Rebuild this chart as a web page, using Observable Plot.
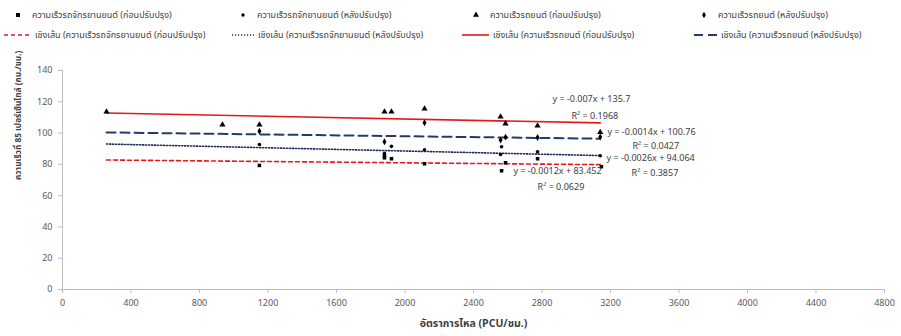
<!DOCTYPE html>
<html><head><meta charset="utf-8">
<script src="https://cdn.jsdelivr.net/npm/d3@7"></script>
<script src="https://cdn.jsdelivr.net/npm/@observablehq/plot@0.6"></script>
<style>
body{margin:0;background:#fff;font-family:Tahoma,"Noto Sans Thai","Noto Sans",sans-serif;}
#legend{position:relative;width:901px;height:50px;font-size:9px;color:#404040;}
#legend .it{position:absolute;display:flex;align-items:center;white-space:nowrap;height:14px;}
#legend svg{display:block;margin-right:4px;}
</style></head>
<body>
<div id="legend"></div>
<div id="chart"></div>
<script>
// ---- data ----
const xTicks = [0,400,800,1200,1600,2000,2400,2800,3200,3600,4000,4400,4800];
const yTicks = [0,20,40,60,80,100,120,140];
const seriesNames = [
  "ความเร็วรถจักรยานยนต์ (ก่อนปรับปรุง)",
  "ความเร็วรถจักยานยนต์ (หลังปรับปรุง)",
  "ความเร็วรถยนต์ (ก่อนปรับปรุง)",
  "ความเร็วรถยนต์ (หลังปรับปรุง)"
];
const trendNames = [
  "เชิงเส้น (ความเร็วรถจักรยานยนต์ (ก่อนปรับปรุง)",
  "เชิงเส้น (ความเร็วรถจักยานยนต์ (หลังปรับปรุง)",
  "เชิงเส้น (ความเร็วรถยนต์ (ก่อนปรับปรุง)",
  "เชิงเส้น (ความเร็วรถยนต์ (หลังปรับปรุง)"
];
// motorcycle before
const mcBeforeX = [1150,1880,1880,1921,2114,2564,2587,2774,3147];
const mcBeforeY = [79.3,85.5,84.2,83.6,80.4,75.9,81.0,83.6,78.5];
// motorcycle after
const mcAfterX = [1150,1880,1921,2114,2558,2564,2774,3140];
const mcAfterY = [92.7,87.0,91.5,89.3,86.3,91.3,88.0,85.5];
// car before
const carBeforeX = [257,934,1150,1880,1921,2114,2558,2587,2774,3140];
const carBeforeY = [113.6,105.3,105.3,113.6,113.6,115.5,110.4,106.0,104.7,100.5];
// car after
const carAfterX = [1150,1880,2114,2558,2587,2774,3140];
const carAfterY = [101.2,94.4,106.6,95.5,97.4,97.2,97.5];
// trendlines (start / end)
const trendX = [257,3140];
const trendMcBefore = [82.8,79.8];
const trendMcAfter = [93.0,85.6];
const trendCarBefore = [112.8,106.5];
const trendCarAfter = [100.4,96.4];
// equation labels
const eqText = ["y = -0.007x + 135.7","R² = 0.1968","y = -0.0014x + 100.76","R² = 0.0427",
                "y = -0.0026x + 94.064","R² = 0.3857","y = -0.0012x + 83.452","R² = 0.0629"];
const eqX = [2861,2972,3182,3328,3177,3323,2633,2774];
const eqY = [121.5,110.6,100.4,91.6,83.8,74.2,75.5,65.3];
const xTitle = "อัตราการไหล (PCU/ชม.)";
const yTitle = "ความเร็วที่ 85 เปอร์เซ็นไทล์ (กม./ชม.)";

// ---- build tables ----
const pts = (xs, ys) => xs.map((x,i)=>({x, y: ys[i]}));
const trend = ys => trendX.map((x,i)=>({x, y: ys[i]}));
const eqs = eqText.map((t,i)=>({t, x: eqX[i], y: eqY[i]}));
const FONT = 'Tahoma,"Noto Sans Thai","Noto Sans",sans-serif';

const styles = {
  mcBefore: {stroke:"#e31a1c", dash:"4,3", w:1.6},
  mcAfter: {stroke:"#1f2d5a", dash:"1.2,1.8", w:1.6},
  carBefore: {stroke:"#e31a1c", dash:null, w:1.6},
  carAfter: {stroke:"#243b66", dash:"9,5", w:2}
};

const chart = Plot.plot({
  width: 901, height: 286,
  marginTop: 20, marginBottom: 47, marginLeft: 62, marginRight: 17,
  x: {domain:[0,4800]},
  y: {domain:[0,140]},
  style: {fontFamily: FONT, fontSize: "9px", color: "#595959", background: "#fff", overflow: "visible"},
  marks: [
    Plot.ruleX([0], {stroke:"#bfbfbf"}),
    Plot.ruleY([0], {stroke:"#bfbfbf"}),
    Plot.axisX({ticks: xTicks, tickFormat: d => String(d), tickSize: 4, tickPadding: 6, label: null, stroke:"#bfbfbf", fill:"#595959", fontSize: 9}),
    Plot.axisY({ticks: yTicks, tickFormat: d => String(d), tickSize: 4, tickPadding: 6, label: null, stroke:"#bfbfbf", fill:"#595959", fontSize: 9}),
    Plot.line(trend(trendCarBefore), {x:"x", y:"y", stroke: styles.carBefore.stroke, strokeWidth: styles.carBefore.w}),
    Plot.line(trend(trendCarAfter), {x:"x", y:"y", stroke: styles.carAfter.stroke, strokeWidth: styles.carAfter.w, strokeDasharray: styles.carAfter.dash}),
    Plot.line(trend(trendMcAfter), {x:"x", y:"y", stroke: styles.mcAfter.stroke, strokeWidth: styles.mcAfter.w, strokeDasharray: styles.mcAfter.dash}),
    Plot.line(trend(trendMcBefore), {x:"x", y:"y", stroke: styles.mcBefore.stroke, strokeWidth: styles.mcBefore.w, strokeDasharray: styles.mcBefore.dash}),
    Plot.dot(pts(mcBeforeX, mcBeforeY), {x:"x", y:"y", symbol:"square", r:2, fill:"#000"}),
    Plot.dot(pts(mcAfterX, mcAfterY), {x:"x", y:"y", symbol:"circle", r:1.8, fill:"#000"}),
    Plot.dot(pts(carBeforeX, carBeforeY), {x:"x", y:"y", symbol:"triangle", r:2.3, fill:"#000"}),
    Plot.dot(pts(carAfterX, carAfterY), {x:"x", y:"y", symbol:"diamond", r:2.1, fill:"#000"}),
    Plot.text(eqs, {x:"x", y:"y", text:"t", textAnchor:"start", fill:"#404040", fontSize: 9}),
    Plot.text([xTitle], {frameAnchor:"bottom", dy: 37, fill:"#404040", fontSize: 10.5, fontWeight:"bold"}),
    Plot.text([yTitle], {frameAnchor:"left", dx: -44, rotate: -90, fill:"#404040", fontSize: 8.3, fontWeight:"bold"})
  ]
});
document.getElementById("chart").appendChild(chart);

// ---- legend ----
const leg = document.getElementById("legend");
function markerSvg(kind){
  const s = d3.create("svg").attr("width", 12).attr("height", 12);
  const sym = {square: d3.symbolSquare, circle: d3.symbolCircle, triangle: d3.symbolTriangle, diamond: d3.symbolDiamond}[kind];
  const size = {square: 16, circle: 9, triangle: 16, diamond: 12}[kind];
  s.append("path").attr("transform","translate(6,6)").attr("d", d3.symbol(sym, size)()).attr("fill","#000");
  return s.node();
}
function lineSvg(st, w){
  const s = d3.create("svg").attr("width", w).attr("height", 10);
  s.append("line").attr("x1",0).attr("x2",w).attr("y1",5).attr("y2",5)
    .attr("stroke", st.stroke).attr("stroke-width", st.w)
    .attr("stroke-dasharray", st.dash || null);
  return s.node();
}
const markerKinds = ["square","circle","triangle","diamond"];
const markerLeft = [12, 237, 470, 698];
const lineLeft = [4, 232, 462, 694];
const lineW = [27, 22, 27, 23];
const trendStyles = [styles.mcBefore, styles.mcAfter, styles.carBefore, styles.carAfter];
seriesNames.forEach((n,i)=>{
  const d = document.createElement("div"); d.className="it";
  d.style.left = markerLeft[i]+"px"; d.style.top = "8px";
  d.appendChild(markerSvg(markerKinds[i]));
  const sp = document.createElement("span"); sp.textContent = n; sp.style.marginLeft = "4px";
  d.appendChild(sp); leg.appendChild(d);
});
trendNames.forEach((n,i)=>{
  const d = document.createElement("div"); d.className="it";
  d.style.left = lineLeft[i]+"px"; d.style.top = "28px";
  d.appendChild(lineSvg(trendStyles[i], lineW[i]));
  const sp = document.createElement("span"); sp.textContent = n;
  d.appendChild(sp); leg.appendChild(d);
});
</script>
</body></html>
